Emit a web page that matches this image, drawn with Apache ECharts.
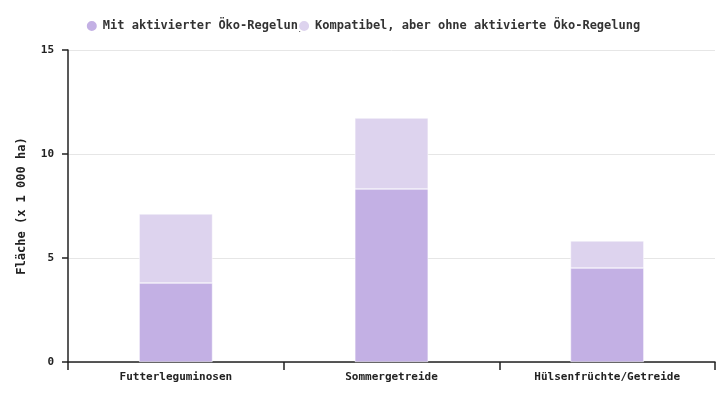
<!DOCTYPE html>
<html><head><meta charset="utf-8">
<script src="https://cdn.jsdelivr.net/npm/echarts@6/dist/echarts.min.js"></script>
<style>html,body{margin:0;padding:0}#c{width:725px;height:400px}</style>
</head><body><div id="c"></div>
<script>
const categories = ["Futterleguminosen", "Sommergetreide", "Hülsenfrüchte/Getreide"];
const activeValues = [3.8, 8.32, 4.52];
const compatibleValues = [3.32, 3.41, 1.3];
const seriesNames = ["Mit aktivierter Öko-Regelung", "Kompatibel, aber ohne aktivierte Öko-Regelung"];
const font = "DejaVu Sans Mono";
const chart = echarts.init(document.getElementById('c'));
chart.setOption({
  animation: false,
  textStyle: {fontFamily: font},
  legend: {top: 14, left: 'center', itemGap: -8, icon: 'circle', itemWidth: 12, itemHeight: 12,
    textStyle: {fontFamily: font, fontSize: 12, fontWeight: 'bold', color: '#333'}},
  grid: {left: 68, right: 10, top: 50, bottom: 38},
  xAxis: {type: 'category', data: categories,
    axisLine: {lineStyle: {color: '#222', width: 1.5}},
    axisTick: {show: true, length: 8, lineStyle: {color: '#222', width: 1.5}},
    axisLabel: {fontFamily: font, fontSize: 11, fontWeight: 'bold', color: '#222', margin: 10}},
  yAxis: {type: 'value', min: 0, max: 15, interval: 5,
    name: 'Fläche (x 1 000 ha)', nameLocation: 'middle', nameGap: 40,
    nameTextStyle: {fontFamily: font, fontSize: 12, fontWeight: 'bold', color: '#222'},
    axisLine: {show: true, lineStyle: {color: '#222', width: 1.5}},
    axisTick: {show: true, length: 6, lineStyle: {color: '#222', width: 1.5}},
    axisLabel: {fontFamily: font, fontSize: 11, fontWeight: 'bold', color: '#222', margin: 14},
    splitLine: {lineStyle: {color: '#e6e6e6'}}},
  series: [
    {name: seriesNames[0], type: 'bar', stack: 's', data: activeValues, barWidth: '34%',
     itemStyle: {color: '#c3b0e4', borderColor: '#fff', borderWidth: 0.5}},
    {name: seriesNames[1], type: 'bar', stack: 's', data: compatibleValues, barWidth: '34%',
     itemStyle: {color: '#ddd3ee', borderColor: '#fff', borderWidth: 0.5}}
  ]
});
</script></body></html>
